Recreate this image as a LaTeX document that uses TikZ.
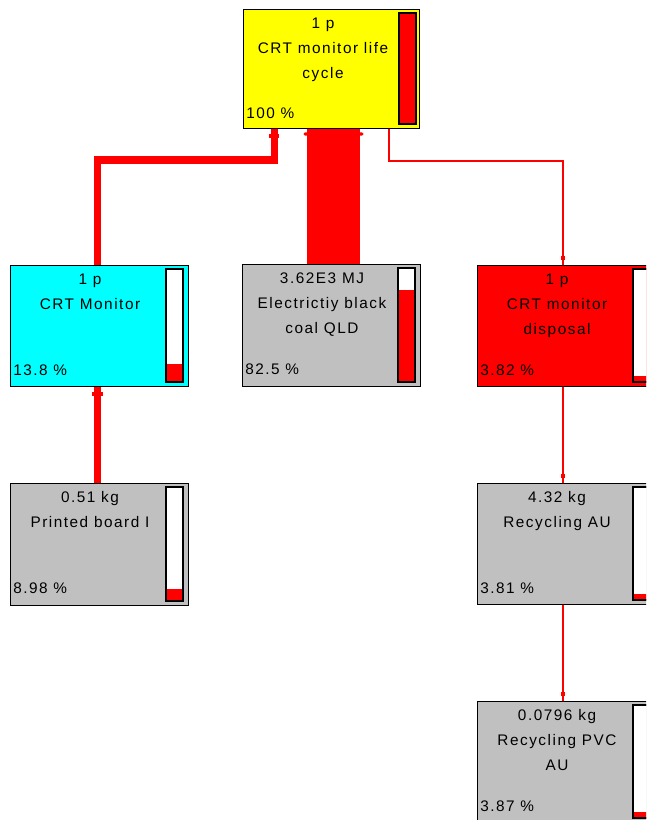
\documentclass[tikz,border=0pt]{standalone}
\usepackage{fontspec}
\setmainfont{Liberation Sans}[LetterSpace=10]
\usetikzlibrary{arrows.meta,decorations.markings,backgrounds}
\definecolor{procgray}{RGB}{192,192,192}
\definecolor{proccyan}{RGB}{0,255,255}
\definecolor{procyellow}{RGB}{255,255,0}
\definecolor{flowred}{RGB}{255,0,0}

% process box: name, x, y, fill, title, share, bar fraction, width, height (pixels)
\newcommand\procbox[9]{%
  \node[proc, fill=#4, minimum width=#8*0.75pt, minimum height=#9*0.75pt] (#1) at (#2,#3) {};
  \node[ttl] (#1-t) at (#2+80,#3+7.5) {\rule{0pt}{9pt}#5};
  \node[pctx] (#1-p) at (#2+3,#3+110) {#6};
  \draw[barline, fill=white] (#2+156,#3+4) rectangle (#2+173,#3+#9-4);
  \fill[flowred] (#2+156,{#3+#9-4-(#9-8)*#7}) rectangle (#2+173,#3+#9-4);
  \draw[barline] (#2+156,#3+4) rectangle (#2+173,#3+#9-4);
}

\begin{document}
\begin{tikzpicture}[x=0.75pt,y=-0.75pt,
  proc/.style={draw=black, line width=1.1pt, anchor=north west, inner sep=0pt},
  ttl/.style={font=\fontsize{11.5}{18.75}\selectfont, align=center, anchor=north, inner sep=0pt},
  pctx/.style={font=\fontsize{11.5}{14}\selectfont, anchor=base west, inner sep=0pt},
  barline/.style={draw=black, line width=0.8pt},
  thinflow/.style={draw=flowred, line width=1.1pt, postaction={decorate},
    decoration={markings, mark=at position -5pt with {\fill[flowred] (-1.6pt,-1.6pt) rectangle (1.6pt,1.6pt);}}},
  thickflow/.style={draw=flowred, line width=5.25pt, postaction={decorate},
    decoration={markings, mark=at position -5pt with {\fill[flowred] (-1.6pt,-4pt) rectangle (1.6pt,4pt);}}},
  fatflow/.style={draw=flowred, line width=39.75pt, postaction={decorate},
    decoration={markings, mark=at position -3.4pt with {\fill[flowred, rounded corners=1.2pt] (-1.3pt,-22.5pt) rectangle (1.3pt,22.5pt);}}}]

\useasboundingbox (0,0) rectangle (646,820);
\clip (0,0) rectangle (646,820);

\procbox{top}{243}{9}{procyellow}{1 p\\CRT monitor life\\cycle}{100 \%}{1}{176}{119}
\procbox{mon}{10}{265}{proccyan}{1 p\\CRT Monitor}{13.8 \%}{0.16}{178}{121}
\procbox{elec}{242}{264}{procgray}{3.62E3 MJ\\Electrictiy black\\coal QLD}{82.5 \%}{0.81}{178}{122}
\procbox{disp}{477}{265}{flowred}{1 p\\CRT monitor\\disposal}{3.82 \%}{0.05}{178}{121}
\procbox{pcb}{10}{483}{procgray}{0.51 kg\\Printed board I}{8.98 \%}{0.106}{178}{122}
\procbox{rau}{477}{483}{procgray}{4.32 kg\\Recycling AU}{3.81 \%}{0.05}{178}{121}
\procbox{pvc}{477}{701}{procgray}{0.0796 kg\\Recycling PVC\\AU}{3.87 \%}{0.05}{178}{121}

% bend points and column positions of the connectors
\coordinate (mx) at (97.5,0);
\coordinate (j1) at (274,160);
\coordinate (ex) at (333.5,0);
\coordinate (k1) at (389,161);
\coordinate (k2) at (563,161);

\begin{pgfonlayer}{background}
  \draw[fatflow] (ex |- elec.north) -- (ex |- top.south);
  \draw[thickflow] (mx |- mon.north) |- (j1) -- (j1 |- top.south);
  \draw[thickflow] (mx |- pcb.north) -- (mx |- mon.south);
  \draw[thinflow] (k1 |- top.south) -- (k1) -- (k2) -- (k2 |- disp.north);
  \draw[thinflow] (k2 |- disp.south) -- (k2 |- rau.north);
  \draw[thinflow] (k2 |- rau.south) -- (k2 |- pvc.north);
\end{pgfonlayer}
\end{tikzpicture}
\end{document}
